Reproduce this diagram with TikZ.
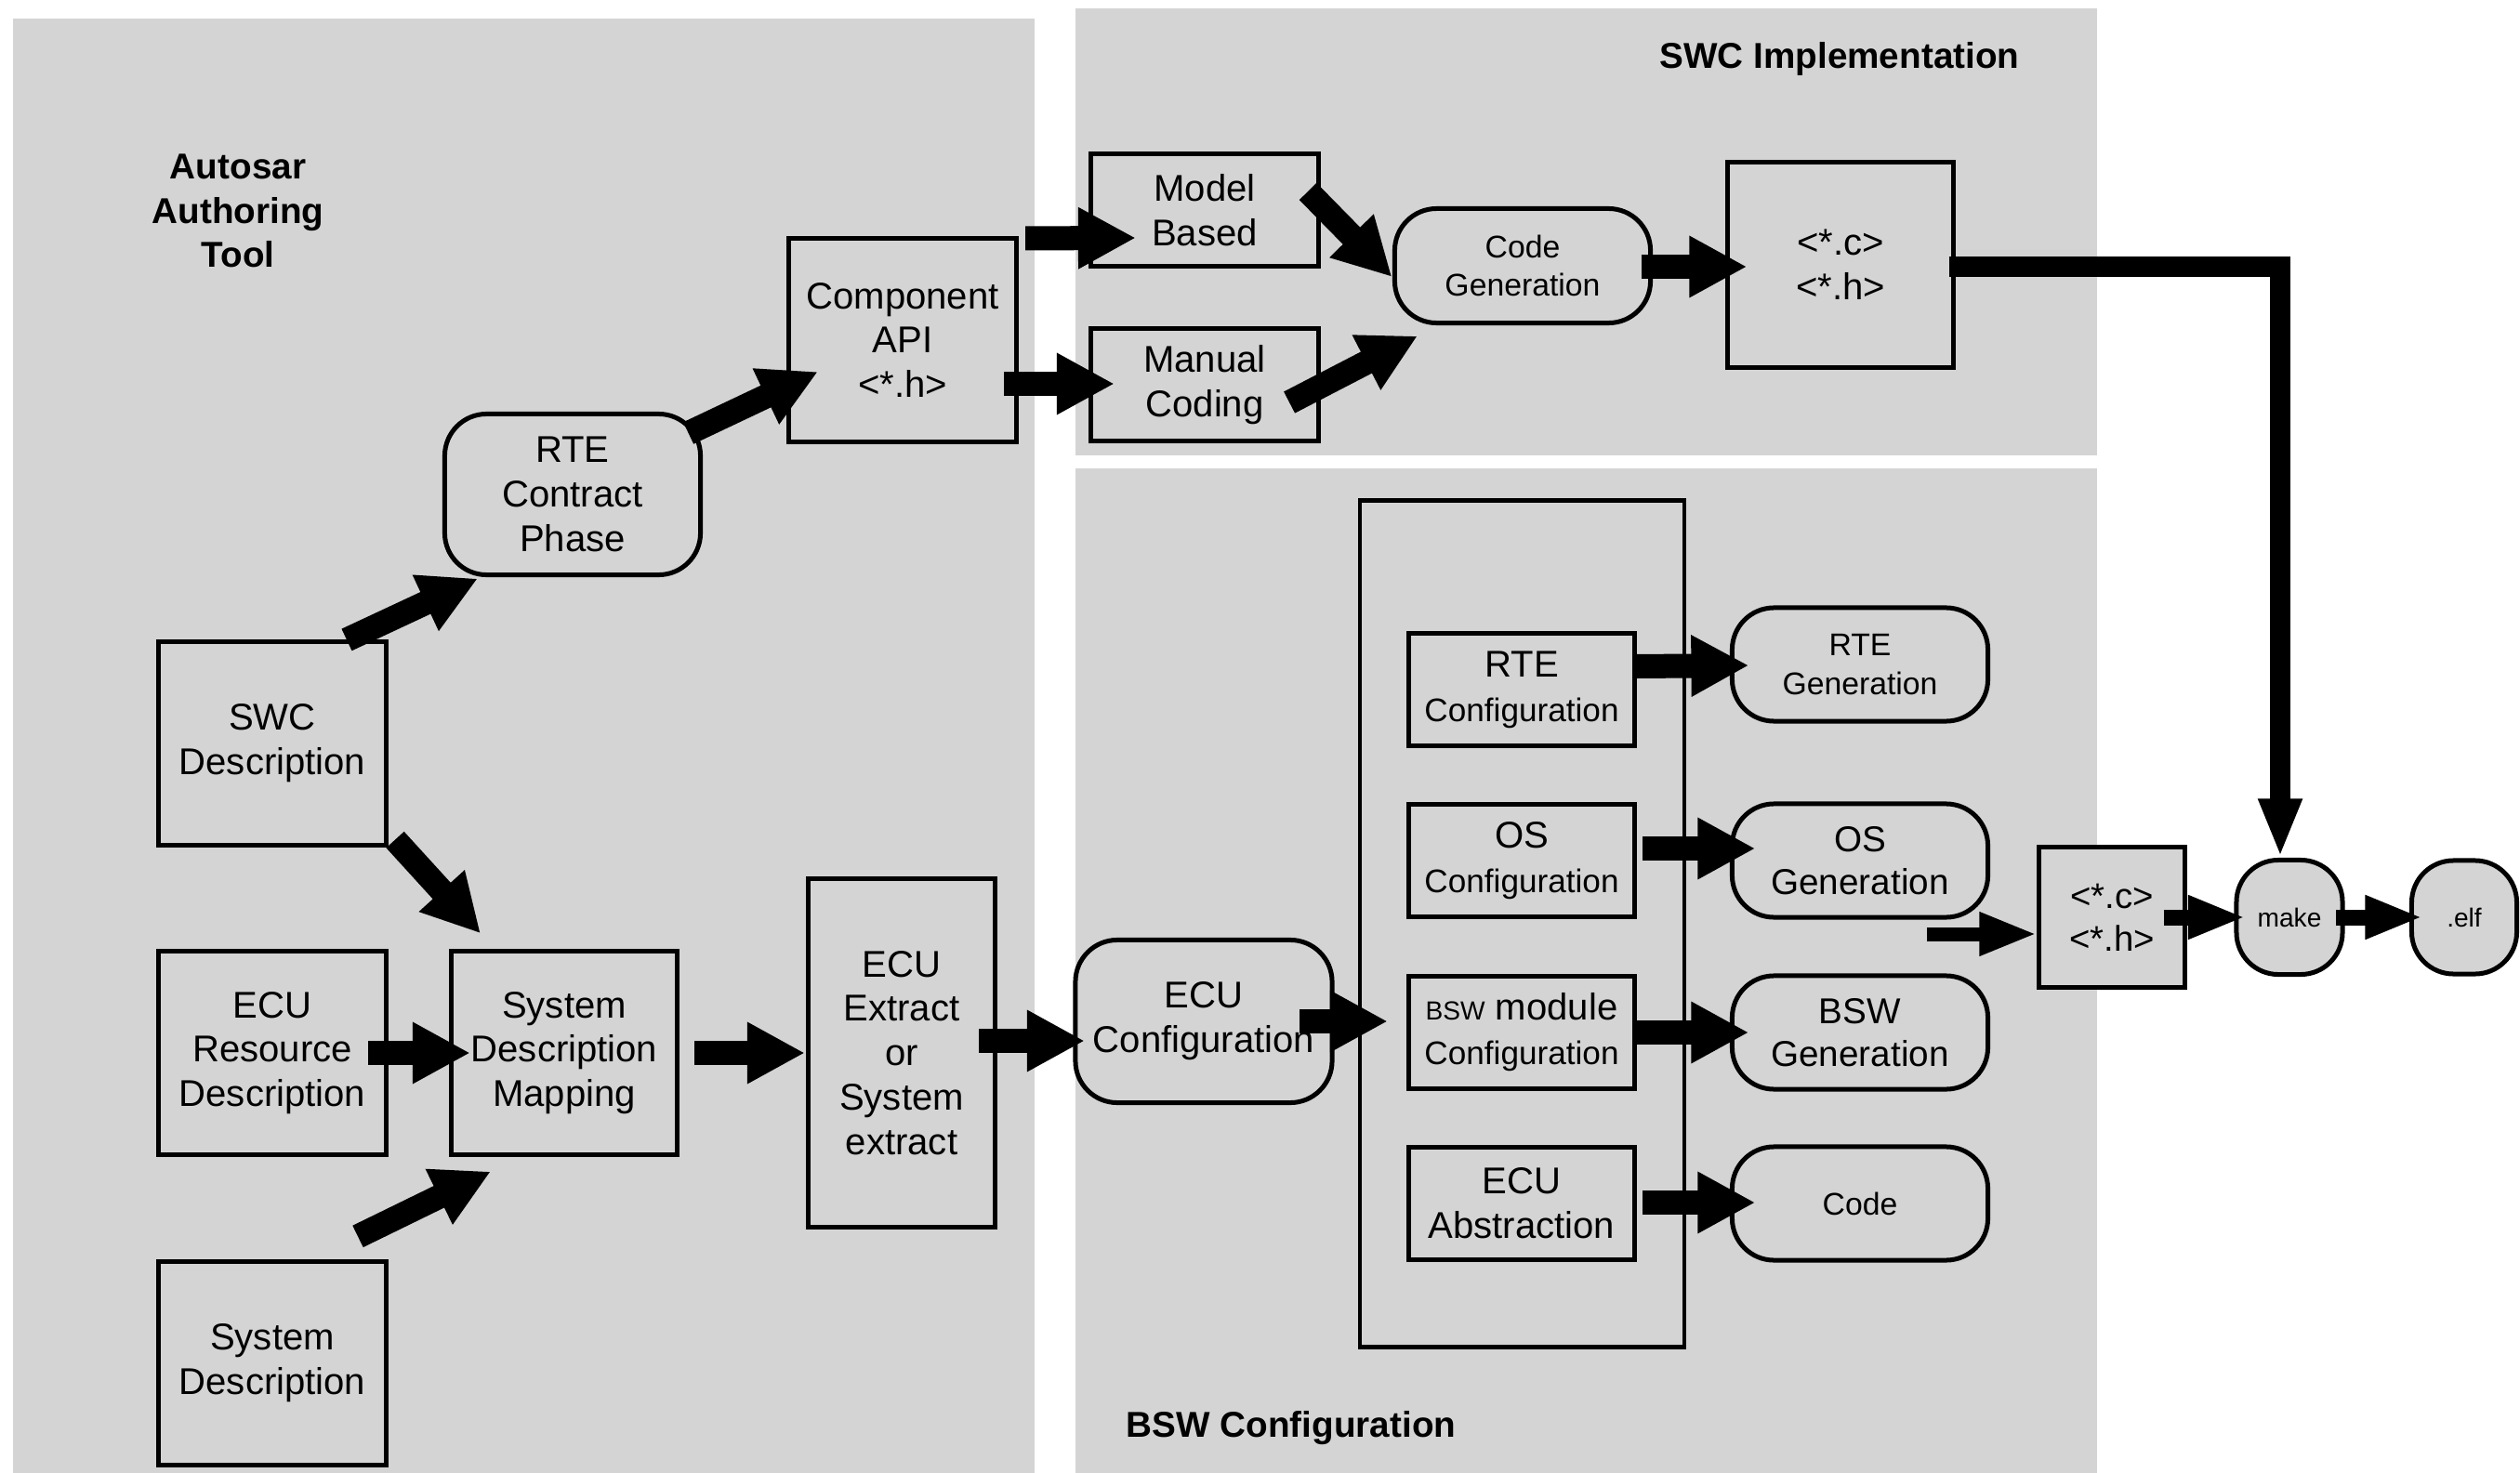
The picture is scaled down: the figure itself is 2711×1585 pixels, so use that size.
\documentclass[tikz,border=0pt]{standalone}
\usepackage{fontspec}
\setmainfont{Liberation Sans}
\usetikzlibrary{arrows.meta,calc}
\definecolor{panelgray}{RGB}{212,212,212}
\newcommand\szbig{\fontsize{11.4}{13.6}\selectfont}
\newcommand\szmid{\fontsize{10}{12}\selectfont}
\newcommand\szsm{\fontsize{9.6}{11.8}\selectfont}
\newcommand\sztiny{\fontsize{8}{9.6}\selectfont}
\begin{document}
\begin{tikzpicture}[x=0.01cm,y=-0.01cm,
  every node/.style={inner sep=0pt, outer sep=0pt, align=center},
  base/.style={draw=black, line width=0.05cm, fill=panelgray, font=\szbig},
  sq/.style={base},
  rnd/.style={base, rounded corners=0.45cm},
  wh/.style 2 args={minimum width=#1cm, minimum height=#2cm},
  title/.style={font=\bfseries\fontsize{11}{13.6}\selectfont},
  fat/.style={line width=0.26cm, -{Triangle[length=0.62cm,width=0.62cm]}},
  slim/.style={line width=0.17cm, -{Triangle[length=0.62cm,width=0.43cm]}},
  feedline/.style={line width=0.22cm, -{Triangle[length=0.63cm,width=0.43cm]}},
]
\useasboundingbox (0,0) rectangle (2711,1585);

% panels
\fill[panelgray] (14,20) rectangle (1113,1585);
\fill[panelgray] (1157,9) rectangle (2256,490);
\fill[panelgray] (1157,504) rectangle (2256,1585);

% panel titles
\node[title] (ttool) at (256,227) {Autosar\\Authoring\\Tool};
\node[title] (tswc) at (1979,64) {SWC Implementation};
\node[title] (tbsw) at (1389,1537) {BSW Configuration};

% authoring tool
\node[sq, wh={2.44}{2.19}] (swc)  at (293,800)  {SWC\\Description};
\node[sq, wh={2.44}{2.19}] (ecur) at (293,1133) {ECU\\Resource\\Description};
\node[sq, wh={2.44}{2.19}] (sysd) at (293,1467) {System\\Description};
\node[sq, wh={2.42}{2.19}] (sdm)  at (607,1133) {System\\Description\\Mapping};
\node[sq, wh={2.00}{3.75}] (ext)  at (970,1133) {ECU\\Extract\\or\\System\\extract};
\node[rnd, wh={2.75}{1.73}] (rte) at (616,532)  {RTE\\Contract\\Phase};
\node[sq, wh={2.44}{2.19}] (api)  at (971,366)  {Component\\API\\<*.h>};

% SWC implementation
\node[sq, wh={2.44}{1.21}] (mb)   at (1296,226) {Model\\Based};
\node[sq, wh={2.44}{1.21}] (mc)   at (1296,414) {Manual\\Coding};
\node[rnd, wh={2.75}{1.23}, font=\szsm] (cg) at (1638,286) {Code\\Generation};
\node[sq, wh={2.43}{2.21}] (ctop) at (1980,285) {<*.c>\\<*.h>};

% BSW configuration
\node[draw=black, line width=0.045cm, wh={3.49}{9.10}] (frame) at (1637.5,994) {};
\node[rnd, wh={2.76}{1.75}] (ecuc) at (1295,1099) {ECU\\Configuration};
\node[sq, wh={2.42}{1.21}] (rtec) at (1637,742)  {RTE\\{\szmid Configuration}};
\node[sq, wh={2.42}{1.21}] (osc)  at (1637,926)  {OS\\{\szmid Configuration}};
\node[sq, wh={2.42}{1.21}] (bswc) at (1637,1111) {{\sztiny BSW} module\\{\szmid Configuration}};
\node[sq, wh={2.42}{1.21}] (ecua) at (1637,1295) {ECU\\Abstraction};
\node[rnd, wh={2.75}{1.22}, font=\szsm] (rteg) at (2001,715) {RTE\\Generation};
\node[rnd, wh={2.75}{1.22}, font=\fontsize{11}{13.2}\selectfont] (osg) at (2001,926) {OS\\Generation};
\node[rnd, wh={2.75}{1.22}, font=\fontsize{11}{13.2}\selectfont] (bswg) at (2001,1111) {BSW\\Generation};
\node[rnd, wh={2.75}{1.22}, font=\szsm] (code) at (2001,1295) {Code};

% build
\node[sq, wh={1.57}{1.50}, font=\fontsize{10.9}{13}\selectfont] (cbot) at (2272,987) {<*.c>\\<*.h>};
\node[rnd, wh={1.14}{1.23}, font=\sztiny] (make) at (2463,987) {make};
\node[rnd, wh={1.13}{1.22}, font=\sztiny] (elf)  at (2651,987) {.elf};
\coordinate (feed) at (2073,1005);

% connectors: authoring tool
\draw[fat] ($(swc.north)+(80,-2)$) -- ($(rte.south)+(-102,4)$);
\draw[fat] ($(rte.east)+(-13,-66)$) -- ($(api.west)+(31,34)$);
\draw[fat] ($(swc.south east)+(10,-6)$) -- ($(sdm.north)+(-90,-19)$);
\draw[fat] ($(ecur.east)+(-19,0)$) -- ($(sdm.west)+(20,0)$);
\draw[fat] ($(sysd.north)+(92,-27)$) -- ($(sdm.south)+(-79,18)$);
\draw[fat] ($(sdm.east)+(19,0)$) -- ($(ext.west)+(-4,0)$);

% connectors: SWC implementation
\draw[fat] ($(api.north east)+(10,0)$) -- ($(mb.west)+(48,30)$);
\draw[fat] ($(api.east)+(-13,47)$) -- ($(mc.west)+(25,-1)$);
\draw[fat] ($(mb.east)+(-11,-20)$) -- ($(cg.west)+(-3,12)$);
\draw[fat] ($(mc.east)+(-31,19)$) -- ($(cg.south)+(-113,14)$);
\draw[fat] ($(cg.east)+(-10,1)$) -- ($(ctop.west)+(21,2)$);
\draw[feedline] ($(ctop.east)+(-5,2)$) -| ($(make.north)+(-10,-3)$);

% connectors: BSW configuration
\draw[fat] ($(ext.east)+(-17,-13)$) -- ($(ecuc.west)+(10,21)$);
\draw[fat] ($(ecuc.east)+(-35,0)$) -- ($(frame.west |- ecuc.east)+(30,0)$);
\draw[fat] ($(rtec.east)+(2,-25)$) -- ($(rteg.west)+(18,1)$);
\draw[fat] ($(osc.east)+(9,-13)$) -- ($(osg.west)+(25,-13)$);
\draw[fat] ($(bswc.east)+(2,0)$) -- ($(bswg.west)+(18,0)$);
\draw[fat] ($(ecua.east)+(9,-1)$) -- ($(code.west)+(25,-1)$);

% connectors: build
\draw[slim, line width=0.15cm] (feed) -- ($(cbot.west)+(-2,18)$);
\draw[slim] ($(cbot.east)+(-23,0)$) -- ($(make.west)+(10,0)$);
\draw[slim] ($(make.east)+(-7,0)$) -- ($(elf.west)+(12,0)$);
\end{tikzpicture}
\end{document}
